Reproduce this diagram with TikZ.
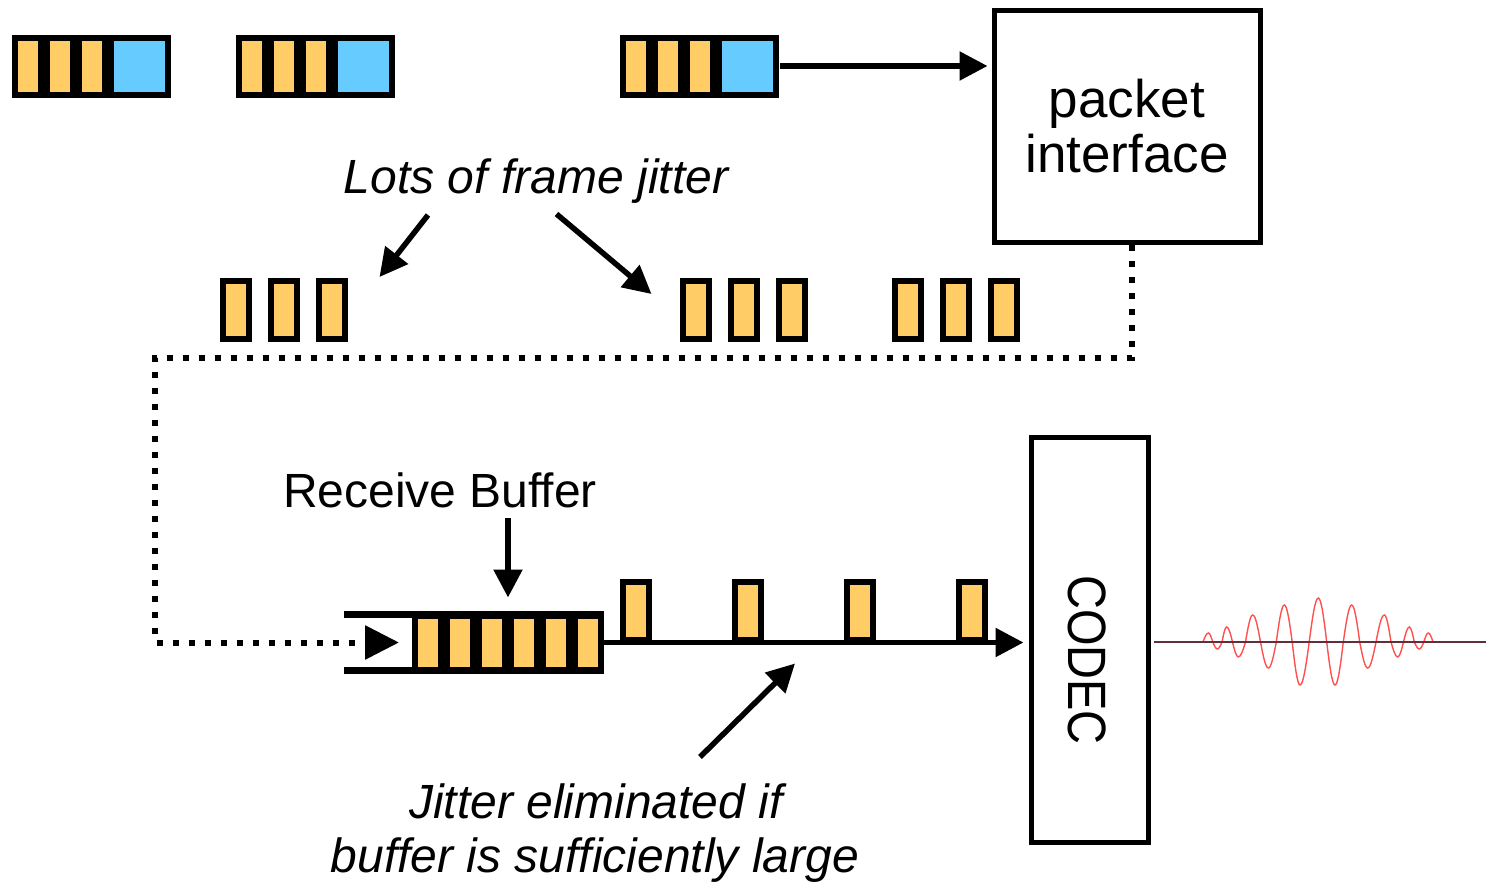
\documentclass[tikz,border=0pt]{standalone}
\usepackage{fontspec}
\setmainfont{Liberation Sans}
\usepackage{graphicx}
\usetikzlibrary{arrows.meta}

\definecolor{frameorange}{RGB}{255,204,102}
\definecolor{headerblue}{RGB}{102,204,255}
\definecolor{wavered}{RGB}{255,80,80}
\definecolor{axisdark}{RGB}{100,45,60}

% one frame cell: black outline block with a coloured core
% #1 x1, #2 y1, #3 x2, #4 y2, #5 horizontal inset, #6 vertical inset, #7 colour
\newcommand\framecell[7]{%
  \fill[black] (#1,#2) rectangle (#3,#4);
  \fill[#7] ({#1+#5},{#2+#6}) rectangle ({#3-#5},{#4-#6});}

% a packet: three voice frames plus a header
\newcommand\packetrow[1]{%
  \framecell{#1}{35}{#1+32}{98.5}{6}{6}{frameorange}
  \framecell{#1+32}{35}{#1+64}{98.5}{6}{6}{frameorange}
  \framecell{#1+64}{35}{#1+96}{98.5}{6}{6}{frameorange}
  \framecell{#1+96}{35}{#1+159}{98.5}{6}{6}{headerblue}}

% three loose frames
\newcommand\framerow[1]{%
  \foreach \k in {0,1,2}{\framecell{#1+48*\k}{278}{#1+48*\k+32}{342}{6}{6}{frameorange}}}

\tikzset{
  arr/.style={line width=5.5pt, -{Triangle[length=28pt,width=28pt]}},
  dotline/.style={line width=6pt, dash pattern=on 6pt off 10pt,
                  -{Triangle[length=34pt,width=33pt]}},
  blockbox/.style={draw=black, line width=5pt, fill=white, inner sep=0pt},
  lbl/.style={inner sep=0pt, font=\fontsize{48}{54}\selectfont},
  ilbl/.style={lbl, font=\fontsize{48}{54}\selectfont\itshape},
}

\begin{document}
\begin{tikzpicture}[x=1pt, y=-1pt]
\useasboundingbox (0,0) rectangle (1486,885);

% packets arriving on the network
\packetrow{12}
\packetrow{236}
\packetrow{620}
\coordinate (pkt) at (780,66);

% packet interface
\node[blockbox, minimum width=266pt, minimum height=232.5pt, align=center,
      font=\fontsize{53}{55}\selectfont] (iface) at (1127,126.5) {packet\\interface};
\draw[arr, shorten >=4pt] (pkt) -- (pkt -| iface.west);

% frames with jitter
\framerow{219.5}
\framerow{679.5}
\framerow{891.5}

\node[ilbl, anchor=base] (jitter) at (536,194) {Lots of frame jitter};
\coordinate (ja1) at (428,215);
\coordinate (jb1) at (379.5,277);
\coordinate (ja2) at (556.5,214);
\coordinate (jb2) at (651.5,294);
\draw[arr] (ja1) -- (jb1);
\draw[arr] (ja2) -- (jb2);

% receive buffer
\draw[black, line width=7pt] (344,614.5) -- (412,614.5);
\draw[black, line width=7pt] (344,670.5) -- (412,670.5);
\foreach \k in {0,...,5}{\framecell{412+32*\k}{611}{444+32*\k}{674}{6}{7.5}{frameorange}}
\coordinate (bufin) at (399,642.5);
\coordinate (bufout) at (604,642.5);

\node[lbl, anchor=base] (rbuf) at (440,507) {Receive Buffer};
\coordinate (rb1) at (508,518);
\coordinate (rb2) at (508,597.5);
\draw[arr] (rb1) -- (rb2);

% path from the interface down into the buffer
\draw[dotline] ([xshift=5pt]iface.south) |- (155,358) |- (bufin);

% evenly spaced frames leaving the buffer
\foreach \k in {0,...,3}{\framecell{620+112*\k}{579}{652+112*\k}{643}{6}{6}{frameorange}}

% codec
\node[blockbox, minimum width=117pt, minimum height=405.5pt] (codec) at (1089.5,640) {};
\node[inner sep=0pt, rotate=-90, font=\fontsize{54}{56}\selectfont] (codectext) at (1087.5,660)
  {\scalebox{0.87}[1]{CODEC}};
\draw[arr, shorten >=5pt] (bufout) -- (bufout -| codec.west);

\node[ilbl, anchor=base] (elim1) at (596,818) {Jitter eliminated if};
\node[ilbl, anchor=base] (elim2) at (595,872) {buffer is sufficiently large};
\coordinate (ea) at (700,757);
\coordinate (eb) at (795,663.5);
\draw[arr] (ea) -- (eb);

% decoded audio
\coordinate (wend) at (1486,642);
\draw[wavered, line width=1.4pt] (1203,642)
  sin (1208.3,633) cos (1212.8,642) sin (1217.3,649) cos (1222,642)
  sin (1226.7,627) cos (1232.5,642) sin (1238.3,657) cos (1245.5,642)
  sin (1252.7,615) cos (1260.5,642) sin (1268.3,668) cos (1276.3,642)
  sin (1284.3,605) cos (1292.2,642) sin (1300,685) cos (1309.2,642)
  sin (1318.3,598) cos (1326.7,642) sin (1335,685) cos (1343.3,642)
  sin (1351.7,605) cos (1359.7,642) sin (1367.7,668) cos (1376,642)
  sin (1384.3,615) cos (1391,642) sin (1397.7,657) cos (1403.5,642)
  sin (1409.3,627) cos (1414.3,642) sin (1419.3,649) cos (1423.8,642)
  sin (1428.3,633) cos (1433,642);
\draw[axisdark, line width=1.5pt, shorten <=3pt] (wend -| codec.east) -- (wend);
\end{tikzpicture}
\end{document}
